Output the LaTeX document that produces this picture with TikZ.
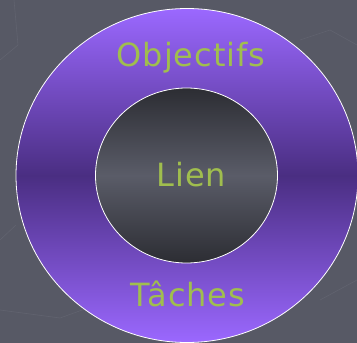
\documentclass[tikz,border=0pt]{standalone}
\usepackage{fontspec}
\usetikzlibrary{shapes.geometric}
\newfontfamily\labelfont[LetterSpace=3]{DejaVu Sans}
\definecolor{bg}{RGB}{87,89,101}
\definecolor{ringlight}{RGB}{155,104,255}
\definecolor{ringdark}{RGB}{74,46,130}
\definecolor{coredark}{RGB}{44,45,51}
\definecolor{corelight}{RGB}{90,92,104}
\definecolor{txt}{RGB}{160,190,78}
\definecolor{faint}{RGB}{97,99,111}
\tikzset{
  lbl/.style={text=txt, font=\labelfont\fontsize{32}{38}\selectfont, anchor=base, inner sep=0pt},
  disc/.style={ellipse, draw=white, line width=0.8pt, inner sep=0pt}
}
\begin{document}
\begin{tikzpicture}[x=1pt,y=-1pt]
\useasboundingbox (0,0) rectangle (357,343);
\fill[bg] (0,0) rectangle (357,343);
\begin{scope}
\clip (0,0) rectangle (357,343);
\draw[faint, line width=0.6pt] (0,60) -- (18,45) -- (14,0);
\draw[faint, line width=0.6pt] (0,240) -- (16,225);
\draw[faint, line width=0.6pt] (0,310) -- (60,318) -- (110,300);
\draw[faint, line width=0.6pt] (300,40) -- (330,30) -- (357,45);
\draw[faint, line width=0.6pt] (320,300) -- (357,280);
\node[disc, minimum width=342pt, minimum height=334pt,
      top color=ringlight, bottom color=ringlight, middle color=ringdark] (outer) at (187,175.5) {};
\node[disc, minimum width=182pt, minimum height=175pt,
      top color=coredark, bottom color=coredark, middle color=corelight] (inner) at (186.5,175.5) {};
\end{scope}
\node[lbl] (obj) at (191,66.5) {Objectifs};
\node[lbl] (lien) at (191.5,186.5) {Lien};
\node[lbl] (tach) at (188,306.5) {Tâches};
\end{tikzpicture}
\end{document}
